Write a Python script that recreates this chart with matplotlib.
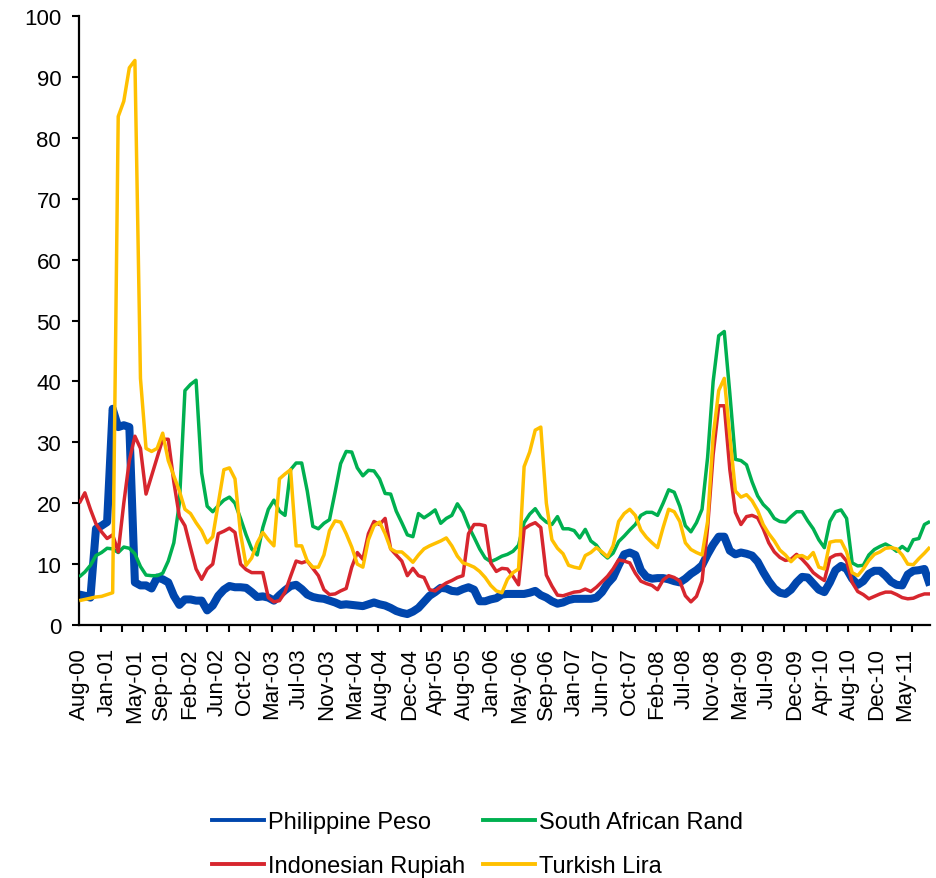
import numpy as np
import matplotlib
matplotlib.use("Agg")
import matplotlib.pyplot as plt
from matplotlib.lines import Line2D

plt.rcParams['font.family'] = ['Liberation Sans', 'DejaVu Sans']

# Category axis: daily observations; one stored value every 19 observations
OBS_STEP = 19
LABEL_EVERY = 94
TICK_EVERY = 73

date_labels = ["Aug-00", "Jan-01", "May-01", "Sep-01", "Feb-02", "Jun-02", "Oct-02",
               "Mar-03", "Jul-03", "Nov-03", "Mar-04", "Aug-04", "Dec-04", "Apr-05",
               "Aug-05", "Jan-06", "May-06", "Sep-06", "Jan-07", "Jun-07", "Oct-07",
               "Feb-08", "Jul-08", "Nov-08", "Mar-09", "Jul-09", "Dec-09", "Apr-10",
               "Aug-10", "Dec-10", "May-11"]

philippine_peso = [
    5.0, 4.8, 4.5, 15.8, 16.3, 16.9, 35.5, 32.5, 32.8, 32.5,
    7.0, 6.5, 6.5, 6.0, 7.8, 7.5, 7.0, 4.8, 3.3, 4.2,
    4.2, 4.0, 4.0, 2.4, 3.2, 4.8, 5.8, 6.4, 6.2, 6.2,
    6.1, 5.4, 4.6, 4.7, 4.5, 4.0, 4.9, 5.7, 6.4, 6.6,
    5.9, 5.0, 4.6, 4.4, 4.3, 4.0, 3.7, 3.3, 3.4, 3.3,
    3.2, 3.1, 3.4, 3.7, 3.4, 3.2, 2.8, 2.3, 2.0, 1.8,
    2.2, 2.8, 3.8, 4.8, 5.4, 6.1, 6.0, 5.6, 5.5, 5.9,
    6.2, 5.8, 3.9, 3.9, 4.2, 4.4, 5.0, 5.1, 5.1, 5.1,
    5.1, 5.3, 5.6, 4.9, 4.5, 3.9, 3.5, 3.7, 4.1, 4.3,
    4.3, 4.3, 4.3, 4.5, 5.4, 6.8, 7.8, 9.8, 11.6, 11.9,
    11.5, 9.0, 7.9, 7.6, 7.7, 7.7, 7.5, 7.2, 7.0, 7.6,
    8.4, 9.0, 9.8, 11.6, 13.2, 14.5, 14.5, 12.2, 11.6, 11.9,
    11.7, 11.4, 10.4, 8.7, 7.2, 6.0, 5.3, 5.1, 5.8, 7.0,
    7.9, 7.8, 6.8, 5.8, 5.4, 7.0, 9.0, 9.7, 9.2, 7.6,
    6.6, 7.2, 8.4, 8.9, 8.9, 8.1, 7.1, 6.6, 6.5, 8.3,
    8.9, 9.0, 9.2, 6.5,
]

south_african_rand = [
    7.9, 8.7, 9.8, 11.4, 11.9, 12.6, 12.5, 11.9, 12.8, 12.6,
    11.7, 9.6, 8.2, 8.1, 8.1, 8.5, 10.5, 13.5, 20.0, 38.5,
    39.5, 40.2, 25.0, 19.5, 18.6, 19.6, 20.5, 21.0, 20.0, 17.5,
    14.8, 12.5, 11.5, 16.0, 19.0, 20.5, 18.7, 18.0, 25.5, 26.6,
    26.6, 22.0, 16.2, 15.8, 16.7, 17.3, 21.8, 26.5, 28.5, 28.4,
    25.8, 24.5, 25.4, 25.3, 24.0, 21.6, 21.5, 18.7, 16.8, 14.8,
    14.5, 18.3, 17.6, 18.2, 18.9, 16.7, 17.5, 18.0, 19.9, 18.5,
    16.2, 14.4, 12.5, 11.0, 10.4, 10.8, 11.3, 11.6, 12.1, 13.1,
    16.8, 18.2, 19.1, 17.7, 16.9, 16.5, 17.8, 15.8, 15.8, 15.5,
    14.3, 15.7, 13.8, 13.1, 11.8, 11.0, 11.8, 13.7, 14.6, 15.6,
    16.5, 18.0, 18.5, 18.5, 18.0, 20.0, 22.2, 21.8, 19.5, 16.3,
    15.3, 16.8, 19.0, 27.5, 40.0, 47.5, 48.2, 38.0, 27.2, 27.0,
    26.3, 23.5, 21.2, 19.8, 18.9, 17.5, 17.0, 16.9, 17.8, 18.6,
    18.6, 17.1, 15.8, 14.0, 12.7, 17.0, 18.6, 18.9, 17.5, 10.2,
    9.7, 9.8, 11.5, 12.4, 12.9, 13.3, 12.8, 12.1, 12.9, 12.2,
    14.0, 14.2, 16.5, 17.0,
]

indonesian_rupiah = [
    20.0, 21.7, 19.0, 16.6, 15.3, 14.2, 14.8, 12.0, 20.0, 27.0,
    31.0, 29.0, 21.5, 24.5, 27.5, 30.5, 30.5, 23.5, 17.8, 16.3,
    12.7, 9.2, 7.5, 9.2, 10.0, 15.0, 15.4, 15.9, 15.2, 10.0,
    9.1, 8.6, 8.6, 8.6, 4.5, 3.8, 4.0, 5.4, 8.0, 10.5,
    10.2, 10.5, 9.3, 8.1, 5.8, 5.0, 5.1, 5.6, 6.0, 9.5,
    11.9, 10.8, 15.0, 17.0, 16.5, 17.5, 12.5, 11.5, 10.5, 8.1,
    9.3, 8.1, 7.8, 5.8, 5.6, 6.3, 6.9, 7.3, 7.8, 8.1,
    15.0, 16.5, 16.5, 16.3, 10.2, 8.8, 9.3, 9.2, 8.0, 6.6,
    15.8, 16.4, 16.8, 16.0, 8.2, 6.4, 4.9, 4.8, 5.1, 5.4,
    5.5, 5.9, 5.5, 6.2, 7.1, 8.0, 9.2, 10.7, 10.5, 10.2,
    8.5, 7.2, 6.8, 6.5, 5.8, 7.4, 8.1, 7.8, 7.2, 4.8,
    3.8, 4.7, 7.2, 16.0, 28.0, 36.0, 36.0, 25.5, 18.5, 16.5,
    17.8, 18.0, 17.6, 15.8, 13.5, 12.0, 11.1, 10.6, 10.8, 11.6,
    10.8, 9.8, 8.6, 7.9, 7.3, 11.0, 11.5, 11.6, 10.5, 7.0,
    5.5, 5.0, 4.3, 4.7, 5.1, 5.4, 5.4, 5.0, 4.5, 4.3,
    4.4, 4.8, 5.1, 5.1,
]

turkish_lira = [
    4.0, 4.2, 4.4, 4.6, 4.7, 5.0, 5.3, 83.5, 86.0, 91.5,
    92.7, 40.5, 29.0, 28.5, 29.0, 31.5, 27.0, 24.5, 22.0, 19.0,
    18.3, 16.8, 15.5, 13.5, 14.5, 20.0, 25.5, 25.8, 24.0, 15.0,
    9.8, 11.0, 13.5, 15.2, 14.0, 13.0, 24.0, 24.8, 25.5, 13.0,
    13.0, 10.5, 9.5, 9.5, 11.5, 15.5, 17.1, 16.9, 15.0, 12.8,
    10.0, 9.5, 14.0, 16.3, 16.9, 15.0, 12.5, 12.0, 12.0, 11.2,
    10.3, 11.5, 12.5, 13.0, 13.4, 13.8, 14.3, 13.0, 11.3, 10.2,
    9.9, 9.5, 8.8, 7.8, 6.5, 5.6, 5.3, 7.5, 8.6, 9.2,
    26.0, 28.4, 32.0, 32.5, 20.0, 14.0, 12.6, 11.7, 9.8, 9.5,
    9.3, 11.4, 11.9, 12.7, 12.0, 11.2, 13.0, 17.0, 18.3, 19.0,
    18.0, 15.6, 14.4, 13.5, 12.7, 16.0, 19.0, 18.6, 17.0, 13.5,
    12.4, 11.9, 11.5, 17.0, 31.0, 38.5, 40.5, 31.0, 22.0, 21.0,
    21.4, 20.4, 18.8, 16.5, 15.0, 13.8, 12.3, 11.5, 10.4, 11.3,
    11.4, 10.9, 11.9, 9.5, 9.2, 13.6, 13.8, 13.8, 12.0, 8.6,
    8.1, 9.2, 10.6, 11.6, 12.0, 12.6, 12.7, 12.5, 11.5, 10.0,
    9.9, 10.9, 11.8, 12.8,
]

series = [
    ("Philippine Peso", philippine_peso, "#0046AD", 5.8),
    ("South African Rand", south_african_rand, "#00B050", 2.5),
    ("Indonesian Rupiah", indonesian_rupiah, "#D7262E", 2.5),
    ("Turkish Lira", turkish_lira, "#FFC000", 2.5),
]

W, H = 936, 879
fig = plt.figure(figsize=(W / 100, H / 100), dpi=100)
ax = fig.add_axes([79.3 / W, 253 / H, (930 - 79.3) / W, 609 / H])

n = len(philippine_peso)
x = np.arange(n) * OBS_STEP
for z, (name, vals, color, lw) in enumerate(series):
    ax.plot(x, vals, color=color, lw=lw, solid_joinstyle="round",
            solid_capstyle="butt", zorder=2 + z)

ax.set_xlim(0, x[-1])
ax.set_ylim(0, 100)
ax.set_yticks(np.arange(0, 101, 10))
ax.tick_params(axis="y", direction="out", length=5, width=1.5,
               labelsize=16, pad=8, colors="black")

label_pos = np.arange(len(date_labels)) * LABEL_EVERY
ax.set_xticks(label_pos)
ax.set_xticklabels(date_labels, rotation=90)
ax.tick_params(axis="x", which="major", length=0, labelsize=16, pad=16)
ax.set_xticks(np.arange(0, x[-1], TICK_EVERY), minor=True)
ax.tick_params(axis="x", which="minor", direction="out", length=5, width=1.5)

for side in ("top", "right"):
    ax.spines[side].set_visible(False)
for side in ("left", "bottom"):
    ax.spines[side].set_linewidth(1.6)

# Legend keys share one thin line width
order = [0, 2, 1, 3]
handles = [Line2D([], [], color=series[i][2], lw=2.8) for i in order]
labels = [series[i][0] for i in order]
fig.legend(handles, labels, ncol=2, loc="center",
           bbox_to_anchor=(477.5 / W, 1 - 845 / H), frameon=False,
           fontsize=17, handlelength=2.2, handletextpad=0.2,
           columnspacing=0.72, labelspacing=0.95)

fig.savefig("out.png", dpi=100)
